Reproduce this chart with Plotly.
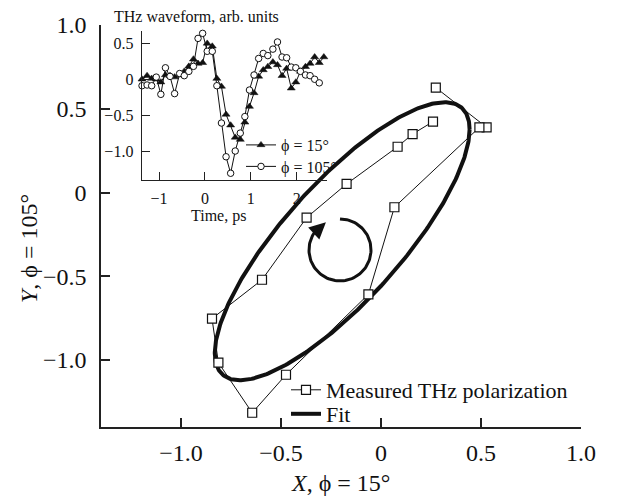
import numpy as np
import plotly.graph_objects as go

# ---------------- Main panel data: measured THz polarization trajectory ----------------
meas_x = [0.274, 0.528, 0.492, 0.067, -0.063, -0.475, -0.644, -0.813, -0.845,
          -0.595, -0.372, -0.172, 0.083, 0.158, 0.260]
meas_y = [0.626, 0.389, 0.389, -0.088, -0.608, -1.088, -1.315, -1.016, -0.753,
          -0.521, -0.150, 0.051, 0.273, 0.349, 0.423]

# Fit ellipse parameters: X = x0 + Ax cos(t), Y = y0 + Ay cos(t + delta)
fit_x0, fit_y0 = -0.194, -0.291
fit_ax, fit_ay = 0.637, 0.830
fit_delta_deg = 36.5

# Rotation-sense arrow (decoration): centre, radii, angles (screen degrees)
rot_cx, rot_cy = -0.205, -0.343
rot_rx, rot_ry = 0.155, 0.185
rot_start, rot_end, arrow_tail, arrow_tip = -90, 222, 212, 243

# ---------------- Inset data: THz waveforms ----------------
time_15 = [-1.37, -1.26, -1.16, -1.06, -0.96, -0.86, -0.76, -0.66, -0.55, -0.45,
           -0.35, -0.25, -0.15, -0.05, 0.05, 0.16, 0.26, 0.36, 0.46, 0.56,
           0.66, 0.77, 0.87, 0.97, 1.07, 1.17, 1.27, 1.37, 1.48, 1.58,
           1.68, 1.78, 1.88, 1.98, 2.08, 2.19, 2.29, 2.39, 2.49, 2.59]
wave_15 = [0.00, 0.05, 0.01, 0.00, -0.04, 0.06, 0.05, 0.03, 0.06, 0.11,
           0.18, 0.28, 0.22, 0.23, 0.50, 0.46, 0.01, -0.10, -0.49, -0.64,
           -0.81, -0.84, -0.60, -0.38, -0.19, 0.04, 0.13, 0.175, 0.24, 0.20,
           0.05, 0.15, -0.125, -0.04, 0.11, 0.175, 0.22, 0.31, 0.23, 0.31]
time_105 = time_15[:39]
wave_105 = [-0.09, -0.08, -0.09, 0.03, -0.21, 0.16, 0.04, -0.20, 0.08, 0.05,
            0.11, 0.18, 0.57, 0.64, 0.39, 0.39, -0.09, -0.61, -1.08, -1.31,
            -1.00, -0.75, -0.52, -0.15, 0.06, 0.29, 0.36, 0.33, 0.42, 0.52,
            0.31, 0.30, 0.17, 0.16, 0.11, 0.06, 0.05, 0.00, -0.05]

# Tick labels
main_ticks = [-1.0, -0.5, 0, 0.5, 1.0]
main_ticktext = ["\u22121.0", "\u22120.5", "0", "0.5", "1.0"]
inset_xticks = [-1, 0, 1, 2]
inset_xticktext = ["\u22121", "0", "1", "2"]
inset_yticks = [-1.0, -0.5, 0, 0.5]
inset_yticktext = ["\u22121.0", "\u22120.5", "0", "0.5"]

FONT = "Liberation Serif, Times New Roman, serif"
INK = "#111111"

# geometry of main plot area (pixels)
W, H = 617, 496
L, R, T, B = 101, 36, 25, 69
PW, PH = W - L - R, H - T - B


def px_x(p):
    return (p - L) / PW


def px_y(p):
    return (H - B - p) / PH


fig = go.Figure()

# Fit ellipse
tt = np.linspace(0, 2 * np.pi, 400)
ex = fit_x0 + fit_ax * np.cos(tt)
ey = fit_y0 + fit_ay * np.cos(tt + np.deg2rad(fit_delta_deg))
fig.add_trace(go.Scatter(x=ex, y=ey, mode="lines", name="Fit",
                         line=dict(color=INK, width=4), legend="legend3",
                         hoverinfo="skip"))

# Measured polarization
fig.add_trace(go.Scatter(x=meas_x, y=meas_y, mode="lines+markers",
                         name="Measured THz polarization", legend="legend",
                         line=dict(color=INK, width=1),
                         marker=dict(symbol="square", size=9, color="white",
                                     line=dict(color=INK, width=1.2))))

# rotation arrow arc
th = np.deg2rad(np.linspace(rot_start, rot_end, 100))
fig.add_trace(go.Scatter(x=rot_cx + rot_rx * np.cos(th), y=rot_cy - rot_ry * np.sin(th),
                         mode="lines", line=dict(color=INK, width=3),
                         showlegend=False, hoverinfo="skip"))
a_tip = np.deg2rad(arrow_tip)
a_tail = np.deg2rad(arrow_tail)
fig.add_annotation(x=rot_cx + rot_rx * np.cos(a_tip), y=rot_cy - rot_ry * np.sin(a_tip),
                   ax=rot_cx + rot_rx * np.cos(a_tail), ay=rot_cy - rot_ry * np.sin(a_tail),
                   xref="x", yref="y", axref="x", ayref="y", text="",
                   showarrow=True, arrowhead=2, arrowsize=1.1, arrowwidth=3,
                   arrowcolor=INK)

# Inset waveforms
fig.add_trace(go.Scatter(x=time_15, y=wave_15, mode="lines+markers",
                         name="\u03d5 = 15\u00b0", legend="legend2",
                         xaxis="x2", yaxis="y2", cliponaxis=False,
                         line=dict(color=INK, width=1),
                         marker=dict(symbol="triangle-up", size=7, color=INK,
                                     line=dict(color=INK, width=0.5))))
fig.add_trace(go.Scatter(x=time_105, y=wave_105, mode="lines+markers",
                         name="\u03d5 = 105\u00b0", legend="legend4",
                         xaxis="x2", yaxis="y2", cliponaxis=False,
                         line=dict(color=INK, width=1),
                         marker=dict(symbol="circle", size=6.5, color="white",
                                     line=dict(color=INK, width=1))))

axis_common = dict(showline=True, linecolor="#222222", ticks="inside",
                   tickcolor="#222222", showgrid=False, zeroline=False,
                   mirror=False)

leg_common = dict(bgcolor="rgba(0,0,0,0)", borderwidth=0, xanchor="left",
                  yanchor="middle", tracegroupgap=0)

fig.update_layout(
    width=W, height=H,
    margin=dict(l=L, r=R, t=T, b=B),
    paper_bgcolor="white", plot_bgcolor="rgba(0,0,0,0)",
    font=dict(family=FONT, color=INK),
    xaxis=dict(range=[-1.4, 1.0], tickvals=main_ticks, ticktext=main_ticktext,
               linewidth=1.5, tickwidth=1.5, ticklen=9,
               tickfont=dict(size=24, family=FONT, color=INK),
               ticklabelstandoff=3, **axis_common),
    yaxis=dict(range=[-1.4, 1.0], tickvals=main_ticks, ticktext=main_ticktext,
               linewidth=1.5, tickwidth=1.5, ticklen=9,
               tickfont=dict(size=24, family=FONT, color=INK),
               ticklabelstandoff=8, **axis_common),
    xaxis2=dict(domain=[px_x(141.7), px_x(326.6)], anchor="y2",
                range=[-1.377, 2.65], tickvals=inset_xticks, ticktext=inset_xticktext,
                linewidth=1.2, tickwidth=1.2, ticklen=8,
                tickfont=dict(size=16, family=FONT, color=INK),
                ticklabelstandoff=4, **axis_common),
    yaxis2=dict(domain=[px_y(180), px_y(30.7)], anchor="x2",
                range=[-1.404, 0.677], tickvals=inset_yticks, ticktext=inset_yticktext,
                linewidth=1.2, tickwidth=1.2, ticklen=8,
                tickfont=dict(size=16, family=FONT, color=INK),
                ticklabelstandoff=4, **axis_common),
    legend=dict(x=px_x(286), y=px_y(390), font=dict(size=22, family=FONT, color=INK), **leg_common),
    legend3=dict(x=px_x(286), y=px_y(414), font=dict(size=22, family=FONT, color=INK), **leg_common),
    legend2=dict(x=px_x(241), y=px_y(145), font=dict(size=16, family=FONT, color=INK), **leg_common),
    legend4=dict(x=px_x(241), y=px_y(166.5), font=dict(size=16, family=FONT, color=INK), **leg_common),
    showlegend=True,
)

# Axis titles and inset labels
fig.add_annotation(text="<i>X</i>, \u03d5 = 15\u00b0", xref="paper", yref="paper",
                   x=px_x(340), y=px_y(483), xanchor="center", yanchor="middle",
                   showarrow=False, font=dict(size=24, family=FONT, color=INK))
fig.add_annotation(text="<i>Y</i>, \u03d5 = 105\u00b0", xref="paper", yref="paper",
                   x=px_x(29), y=px_y(249), xanchor="center", yanchor="middle",
                   textangle=-90, showarrow=False,
                   font=dict(size=24, family=FONT, color=INK))
fig.add_annotation(text="THz waveform, arb. units", xref="paper", yref="paper",
                   x=px_x(112), y=px_y(16), xanchor="left", yanchor="middle",
                   showarrow=False, font=dict(size=16, family=FONT, color=INK))
fig.add_annotation(text="Time, ps", xref="paper", yref="paper",
                   x=px_x(189), y=px_y(216), xanchor="left", yanchor="middle",
                   showarrow=False, font=dict(size=16, family=FONT, color=INK))

fig.write_html("out.html")
